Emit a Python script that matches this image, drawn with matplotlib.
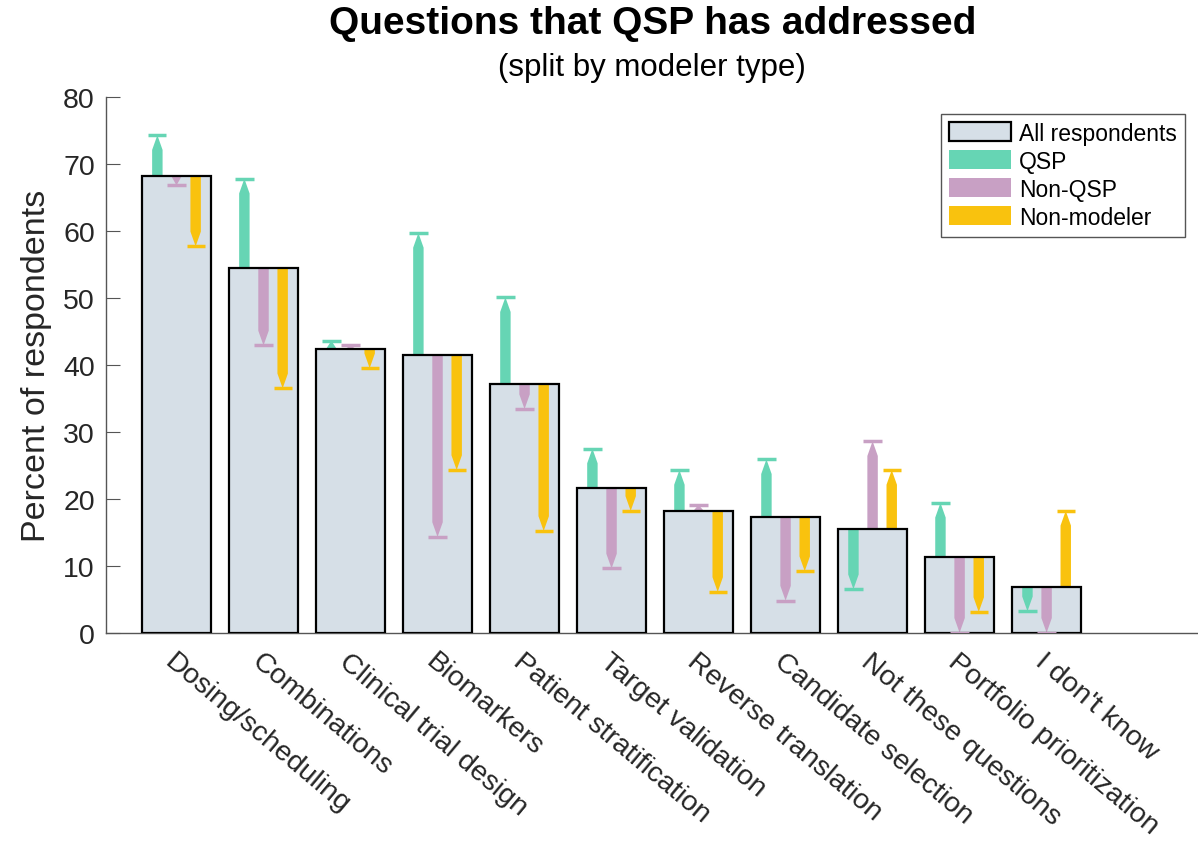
import numpy as np
import matplotlib
matplotlib.use("Agg")
import matplotlib.pyplot as plt
from matplotlib.patches import Patch
from matplotlib.transforms import ScaledTranslation

plt.rcParams["font.family"] = ["Liberation Sans", "DejaVu Sans"]

questions = ["Dosing/scheduling", "Combinations", "Clinical trial design", "Biomarkers",
             "Patient stratification", "Target validation", "Reverse translation",
             "Candidate selection", "Not these questions", "Portfolio prioritization",
             "I don't know"]
all_resp = [68.2, 54.4, 42.4, 41.5, 37.2, 21.6, 18.2, 17.3, 15.5, 11.3, 6.9]
qsp = [74.3, 67.8, 43.6, 59.7, 50.1, 27.5, 24.3, 25.9, 6.5, 19.4, 3.2]
non_qsp = [66.8, 42.9, 42.9, 14.3, 33.4, 9.6, 19.1, 4.8, 28.6, 0.0, 0.0]
non_modeler = [57.7, 36.5, 39.5, 24.3, 15.2, 18.2, 6.1, 9.2, 24.3, 3.1, 18.2]

bar_col = "#d6dfe7"
qsp_col = "#66d5b4"
nonqsp_col = "#c8a0c4"
nonmod_col = "#f9c20e"

fig = plt.figure(figsize=(11.98, 8.45), dpi=100)
ax = fig.add_axes([0.0885, 0.25, 0.9115, 0.634])

x = np.arange(1, len(questions) + 1)
ax.bar(x, all_resp, width=0.8, color=bar_col, edgecolor="none", zorder=1)

shaft = 0.12   # arrow width (x units)
cap = 0.21     # cap width
head = 2.2     # head length (y units)


def pencil(xc, y0, y1, color):
    d = y1 - y0
    s = np.sign(d)
    h = min(head, abs(d))
    yb = y1 - s * h
    xs = [xc - shaft / 2, xc - shaft / 2, xc, xc + shaft / 2, xc + shaft / 2]
    ys = [y0, yb, y1, yb, y0]
    ax.fill(xs, ys, color=color, lw=0, zorder=2)
    ax.plot([xc - cap / 2, xc + cap / 2], [y1, y1], color=color, lw=2.5,
            solid_capstyle="butt", zorder=4)


off = 0.22
for i in range(len(questions)):
    pencil(x[i] - off, all_resp[i], qsp[i], qsp_col)
    pencil(x[i], all_resp[i], non_qsp[i], nonqsp_col)
    pencil(x[i] + off, all_resp[i], non_modeler[i], nonmod_col)

ax.bar(x, all_resp, width=0.8, color="none", edgecolor="black", lw=1.6, zorder=3)

ax.set_xlim(0.19, 12.74)
ax.set_ylim(0, 80)
ax.set_yticks(np.arange(0, 81, 10))
ax.set_xticks(x)
ax.set_xticklabels(questions, rotation=-40, ha="left", va="top",
                   rotation_mode="anchor", fontsize=20.5, color="#262626")
shift = ScaledTranslation(-10 / 100, 0, fig.dpi_scale_trans)
for lab in ax.get_xticklabels():
    lab.set_transform(lab.get_transform() + shift)
ax.tick_params(axis="x", length=0, pad=11)
ax.tick_params(axis="y", direction="in", length=10, labelsize=20.5,
               labelcolor="#262626", color="#555555", pad=8)
for sp in ["top", "right"]:
    ax.spines[sp].set_visible(False)
for sp in ["left", "bottom"]:
    ax.spines[sp].set_color("#555555")
    ax.spines[sp].set_linewidth(1.0)
ax.set_ylabel("Percent of respondents", fontsize=24.5, color="#262626", labelpad=8)

handles = [Patch(facecolor=bar_col, edgecolor="black", lw=1.6, label="All respondents"),
           Patch(facecolor=qsp_col, label="QSP"),
           Patch(facecolor=nonqsp_col, label="Non-QSP"),
           Patch(facecolor=nonmod_col, label="Non-modeler")]
leg = ax.legend(handles=handles, loc="upper right", bbox_to_anchor=(0.988, 0.969),
                borderaxespad=0, fontsize=16.5, fancybox=False, edgecolor="#555555",
                framealpha=1, handlelength=2.7, handleheight=0.9, labelspacing=0.22,
                handletextpad=0.35, borderpad=0.35)
leg.get_frame().set_linewidth(1.0)

fig.text(0.5445, 0.972, "Questions that QSP has addressed", ha="center", va="center",
         fontsize=28, fontweight="bold")
fig.text(0.5445, 0.919, "(split by modeler type)", ha="center", va="center", fontsize=22.5)

fig.savefig("out.png", dpi=100)
